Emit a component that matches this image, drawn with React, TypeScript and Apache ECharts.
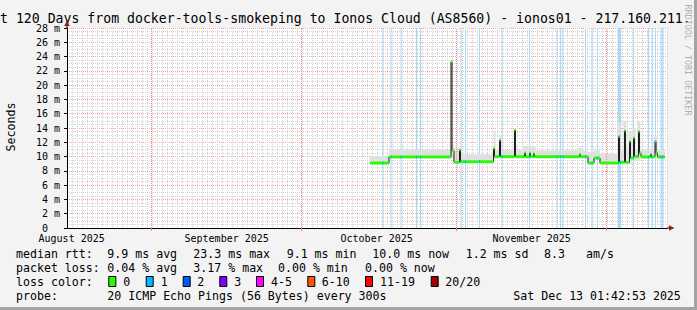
import React, { useEffect, useRef } from 'react';
import * as echarts from 'echarts';

// x unit: days since Fri Aug 15 2025 01:42:53 (start of the 120-day window)
const X_MAX = 120;
const MONTH_LABELS = ['August 2025', 'September 2025', 'October 2025', 'November 2025'];
const MONTH_LABEL_DAYS = [0.93, 31.93, 61.93, 92.93];
const MONTH_START_DAYS = [16.93, 46.93, 77.93, 107.93];

// median RTT (ms), step data: value holds from day[i] until day[i+1]
const MED_DAYS = [60.6, 64.4, 76.8, 77.0, 77.4, 78.5, 78.7, 85.3, 85.5, 86.5, 86.7, 89.5, 89.7, 91.5, 91.7, 92.5, 92.7, 93.3, 93.5, 102.5, 102.7, 104.2, 105.4, 106.6, 110.3, 110.5, 111.5, 111.7, 112.5, 112.7, 113.3, 113.5, 114.3, 114.5, 114.8, 116.7, 116.9, 117.6, 117.8, 118.1, 119.6];
const MED_VALS = [9.1, 9.95, 23.3, 10.8, 9.2, 10.9, 9.3, 11.1, 10.0, 12.3, 10.0, 13.7, 10.0, 10.5, 10.0, 10.5, 10.0, 10.4, 10.0, 10.3, 10.0, 9.1, 9.8, 9.1, 12.8, 9.2, 13.6, 9.2, 12.1, 9.8, 12.6, 10.0, 13.5, 10.5, 9.95, 10.3, 9.95, 12.1, 10.5, 9.95, 10.0];

// smoke (ping spread), step data
const SMOKE_DAYS = [60.6, 64.4, 76.8, 77.4, 78.7, 85.3, 85.7, 86.5, 86.9, 89.3, 89.9, 91.3, 93.7, 102.3, 102.9, 104.2, 105.4, 106.6, 110.1, 110.7, 111.3, 111.9, 112.3, 112.9, 113.1, 113.7, 114.1, 114.7, 117.4, 118.1, 119.6];
const SMOKE_LO = [8.9, 9.7, 9.7, 9.0, 9.0, 9.7, 9.7, 9.7, 9.7, 9.7, 9.7, 9.7, 9.7, 9.7, 9.7, 8.9, 9.5, 8.9, 8.9, 8.9, 8.9, 8.9, 8.9, 9.4, 9.4, 9.4, 9.4, 9.7, 9.7, 9.7, 9.7];
const SMOKE_HI = [10.1, 11.0, 11.6, 11.2, 10.3, 13.6, 10.9, 13.0, 10.9, 11.5, 10.9, 11.5, 10.9, 11.3, 10.9, 10.6, 10.9, 10.4, 14.8, 10.8, 15.0, 10.8, 13.6, 10.9, 14.0, 10.9, 15.0, 11.0, 12.8, 10.9, 10.9];

// intervals with packet loss (1/20 lost), start day of each 0.2-day bucket
const LOSS_DAYS = [63.1, 64.7, 66.7, 69.8, 70.6, 78.7, 79.6, 82.4, 86.9, 92.4, 97.9, 98.6, 99.1, 103.6, 104.9, 106.0, 110.2, 110.4, 110.6, 113.2, 116.2, 116.9, 117.6, 118.7, 118.9, 119.1];
const LOSS_BUCKET = 0.2;

const TITLE = 't 120 Days from docker-tools-smokeping to Ionos Cloud (AS8560) - ionos01 - 217.160.211.';
const Y_TITLE = 'Seconds';
const WATERMARK = 'RRDTOOL / TOBI OETIKER';

const MEDIAN_STATS = ['median rtt:', '9.9 ms avg', '23.3 ms max', '9.1 ms min', '10.0 ms now', '1.2 ms sd', '8.3', 'am/s'];
const LOSS_STATS = ['packet loss:', '0.04 % avg', '3.17 % max', '0.00 % min', '0.00 % now'];
const LOSS_COLOR_LABELS = ['0', '1', '2', '3', '4-5', '6-10', '11-19', '20/20'];
const LOSS_COLORS = ['#26ff00', '#00b8ff', '#0059ff', '#7e00ff', '#ff00ff', '#ff5500', '#ff0000', '#a10000'];
const PROBE_TEXTS = ['probe:', '20 ICMP Echo Pings (56 Bytes) every 300s', 'Sat Dec 13 01:42:53 2025'];

// layout (pixels)
const MONO = '"DejaVu Sans Mono", monospace';
const ROW_Y = [254.3, 268, 282, 296.3];
const ROW1_X = [16, 107.3, 193.3, 286.7, 372.3, 465.7, 544, 586];
const ROW2_X = [16, 107.3, 193.3, 278, 365];
const BOX_X = [108.3, 145.7, 182.7, 219.3, 256, 307.3, 365, 430.7];
const BOX_LABEL_X = [123.3, 160.7, 197.3, 234.3, 271, 321.7, 380, 445.3];
const ROW4_X = [16, 107.3, 513.3];
const MED_HALF = 0.2;

function txt(text: string, x: number, y: number, size = 11.6, extra: any = {}) {
  return {
    type: 'text',
    x,
    y,
    silent: true,
    ...extra,
    style: {
      text,
      fill: '#000',
      font: `${size}px ${MONO}`,
      align: 'left',
      verticalAlign: 'middle',
      textAlign: 'left',
      textVerticalAlign: 'middle',
      ...(extra.style || {}),
    },
  };
}

function medianAt(d: number): number | null {
  let idx = -1;
  for (let i = 0; i < MED_DAYS.length - 1; i++) if (MED_DAYS[i] <= d + 1e-6) idx = i;
  return idx < 0 ? null : MED_VALS[idx];
}

export default function App() {
  const ref = useRef<HTMLDivElement>(null);
  useEffect(() => {
    document.body.style.margin = '0';
    const chart = echarts.init(ref.current!, null, { renderer: 'svg', width: 697, height: 310 });

    const graphics: any[] = [];
    // frame
    graphics.push({ type: 'rect', shape: { x: 694, y: 0, width: 3, height: 310 }, style: { fill: '#a3a3a3' }, silent: true });
    graphics.push({ type: 'rect', shape: { x: 0, y: 307, width: 697, height: 3 }, style: { fill: '#a3a3a3' }, silent: true });
    graphics.push(txt(TITLE, 0, 18.8, 13.2));
    graphics.push(txt(Y_TITLE, 11, 127, 11.6, { rotation: Math.PI / 2, style: { align: 'center', textAlign: 'center' } }));
    graphics.push(txt(WATERMARK, 688, 60, 8.4, { rotation: -Math.PI / 2, style: { fill: '#b0b0b0', align: 'center', textAlign: 'center' } }));
    // axis arrows
    graphics.push({ type: 'polygon', shape: { points: [[64.3, 26], [69.7, 26], [67, 20.5]] }, style: { fill: '#9b1c1c' }, silent: true });
    graphics.push({ type: 'polygon', shape: { points: [[669, 225.3], [669, 230.7], [674.5, 228]] }, style: { fill: '#9b1c1c' }, silent: true });
    graphics.push({ type: 'line', shape: { x1: 67, y1: 28, x2: 67, y2: 26 }, style: { stroke: '#000', lineWidth: 1 }, silent: true });
    graphics.push({ type: 'line', shape: { x1: 667, y1: 228, x2: 669, y2: 228 }, style: { stroke: '#000', lineWidth: 1 }, silent: true });

    MEDIAN_STATS.forEach((t, i) => graphics.push(txt(t, ROW1_X[i], ROW_Y[0])));
    LOSS_STATS.forEach((t, i) => graphics.push(txt(t, ROW2_X[i], ROW_Y[1])));
    graphics.push(txt('loss color:', 16, ROW_Y[2]));
    LOSS_COLOR_LABELS.forEach((t, i) => {
      graphics.push({
        type: 'rect',
        shape: { x: BOX_X[i] + 0.5, y: ROW_Y[2] - 5.5, width: 7, height: 10 },
        style: { fill: LOSS_COLORS[i], stroke: '#000', lineWidth: 1 },
        silent: true,
      });
      graphics.push(txt(t, BOX_LABEL_X[i], ROW_Y[2]));
    });
    PROBE_TEXTS.forEach((t, i) => graphics.push(txt(t, ROW4_X[i], ROW_Y[3])));

    const medData = MED_DAYS.map((d, i) => [d, MED_VALS[i]]);

    const option: any = {
      animation: false,
      backgroundColor: '#f3f3f3',
      grid: { left: 67, top: 28, width: 600, height: 200, show: true, backgroundColor: '#ffffff', borderWidth: 0 },
      xAxis: [
        {
          type: 'value', min: 0, max: X_MAX, interval: 1,
          axisLine: { show: true, lineStyle: { color: '#000', width: 1 } },
          axisTick: { show: false },
          axisLabel: { show: false },
          splitLine: { show: true, lineStyle: { color: '#d4d4d4', type: [1, 1], width: 1 } },
        },
        {
          type: 'value', min: 0, max: X_MAX, position: 'bottom', offset: 0,
          axisLine: { show: false },
          axisTick: { show: true, length: 3, customValues: MONTH_START_DAYS, lineStyle: { color: '#f08080' } },
          axisLabel: {
            show: true, margin: 5, color: '#000', fontFamily: MONO, fontSize: 10,
            customValues: MONTH_LABEL_DAYS,
            formatter: (v: number) => {
              const i = MONTH_LABEL_DAYS.findIndex((d) => Math.abs(d - v) < 1e-6);
              return i >= 0 ? MONTH_LABELS[i] : '';
            },
          },
          splitLine: { show: false },
        },
      ],
      yAxis: {
        type: 'value', min: 0, max: 28, interval: 2,
        axisLine: { show: true, lineStyle: { color: '#000', width: 1 } },
        axisTick: { show: true, length: 3, lineStyle: { color: '#000' } },
        axisLabel: {
          margin: 7, color: '#000', fontFamily: MONO, fontSize: 10,
          formatter: (v: number) => (v === 0 ? '{z|0}' : `${v} m`),
          rich: { z: { padding: [0, 12, 0, 0], fontFamily: MONO, fontSize: 10, color: '#000' } },
        },
        splitLine: { show: true, lineStyle: { color: '#f2a3a3', type: [1, 1], width: 1 } },
        minorTick: { show: false, splitNumber: 4 },
        minorSplitLine: { show: true, lineStyle: { color: '#d4d4d4', type: [1, 1], width: 1 } },
      },
      series: [
        {
          type: 'custom',
          name: 'loss background',
          xAxisIndex: 0,
          z: 1,
          silent: true,
          data: LOSS_DAYS.map((d) => [d, 0]),
          renderItem: (params: any, api: any) => {
            const d = LOSS_DAYS[params.dataIndex];
            const p0 = api.coord([d, 28]);
            const p1 = api.coord([d + LOSS_BUCKET, 0]);
            return { type: 'rect', shape: { x: p0[0], y: p0[1], width: Math.max(1, p1[0] - p0[0]), height: p1[1] - p0[1] }, style: { fill: '#a6dcf3' } };
          },
          markLine: {
            silent: true, symbol: ['none', 'none'], label: { show: false },
            lineStyle: { color: '#f08a8a', type: [1, 1], width: 1 },
            data: MONTH_START_DAYS.map((d) => ({ xAxis: d })),
          },
        },
        {
          type: 'custom',
          name: 'smoke',
          z: 2,
          silent: true,
          data: SMOKE_DAYS.map((d, i) => [d, SMOKE_LO[i], SMOKE_HI[i]]),
          renderItem: (params: any, api: any) => {
            const i = params.dataIndex;
            if (i >= SMOKE_DAYS.length - 1) return null;
            const p0 = api.coord([SMOKE_DAYS[i], SMOKE_HI[i]]);
            const p1 = api.coord([SMOKE_DAYS[i + 1], SMOKE_LO[i]]);
            return { type: 'rect', shape: { x: p0[0], y: p0[1], width: p1[0] - p0[0], height: p1[1] - p0[1] }, style: { fill: '#e0e0e0' } };
          },
        },
        {
          type: 'line',
          name: 'median',
          z: 3,
          silent: true,
          step: 'end',
          symbol: 'none',
          data: medData,
          lineStyle: { color: '#1e1e1e', width: 1 },
        },
        {
          type: 'custom',
          name: 'median band',
          z: 4,
          silent: true,
          data: medData,
          renderItem: (params: any, api: any) => {
            const i = params.dataIndex;
            if (i >= MED_DAYS.length - 1) return null;
            const p0 = api.coord([MED_DAYS[i], MED_VALS[i] + MED_HALF]);
            const p1 = api.coord([MED_DAYS[i + 1], MED_VALS[i] - MED_HALF]);
            return { type: 'rect', shape: { x: p0[0], y: p0[1], width: p1[0] - p0[0], height: p1[1] - p0[1] }, style: { fill: LOSS_COLORS[0] } };
          },
        },
        {
          type: 'custom',
          name: 'median with loss',
          z: 5,
          silent: true,
          data: LOSS_DAYS.map((d) => [d, 0]),
          renderItem: (params: any, api: any) => {
            const d = LOSS_DAYS[params.dataIndex];
            const m = medianAt(d);
            if (m === null) return null;
            const p0 = api.coord([d, m + MED_HALF]);
            const p1 = api.coord([d + LOSS_BUCKET, m - MED_HALF]);
            return { type: 'rect', shape: { x: p0[0], y: p0[1], width: Math.max(1, p1[0] - p0[0]), height: p1[1] - p0[1] }, style: { fill: LOSS_COLORS[1] } };
          },
        },
      ],
      graphic: graphics,
    };
    chart.setOption(option);
    return () => chart.dispose();
  }, []);
  return <div ref={ref} style={{ width: 697, height: 310, position: 'absolute', left: 0, top: 0 }} />;
}
